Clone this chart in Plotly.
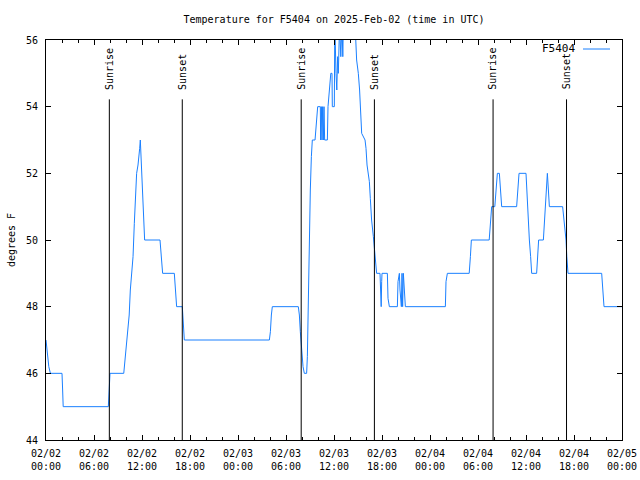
import pandas as pd
import plotly.graph_objects as go

start = "2025-02-02 00:00"
# hours since start (UTC) and temperature (deg F)
hours = [
    0.00, 0.08, 0.20, 0.35, 0.55, 2.00, 2.08, 2.15, 7.79, 7.90, 8.00,
    9.72, 9.85, 9.95, 10.08, 10.25, 10.40, 10.54, 10.70, 10.88, 11.04, 11.20,
    11.33, 11.50, 11.63, 11.71, 11.79, 11.88, 12.00, 12.17, 12.29, 12.33,
    14.25, 14.33, 14.50, 14.58, 16.04, 16.13, 16.25, 16.33, 17.04, 17.12,
    17.20, 17.29, 27.92, 28.05, 28.17, 28.29, 31.54, 31.67, 31.79, 31.96,
    32.13, 32.29, 32.58, 32.67, 32.75, 32.83, 32.92, 33.04, 33.17, 33.29,
    33.63, 33.70, 33.85, 33.96, 34.29, 34.33, 34.42, 34.50, 34.58, 34.67,
    34.75, 34.83, 35.00, 35.17, 35.25, 35.46, 35.60, 35.75, 35.79, 36.04,
    36.10, 36.25, 36.35, 36.45, 36.54, 36.70, 36.85, 37.00, 37.10, 37.17,
    38.63, 38.83, 39.04, 39.20, 39.46, 39.88, 40.00, 40.13, 40.29, 40.42,
    40.54, 40.70, 40.92, 41.10, 41.25, 41.33, 41.75, 41.83, 41.90, 41.96,
    42.00, 42.67, 42.75, 42.92, 43.92, 44.00, 44.17, 44.25, 44.42, 44.50,
    44.58, 44.67, 44.92, 49.92, 50.00, 50.17, 52.90, 53.05, 53.17, 55.40,
    55.55, 55.71, 56.10, 56.25, 56.42, 56.67, 56.80, 56.96, 58.83, 58.95,
    59.13, 60.00, 60.17, 60.42, 60.58, 60.71, 61.33, 61.50, 61.58, 62.17,
    62.42, 62.67, 62.80, 62.92, 64.58, 64.90, 65.00, 65.10, 65.25, 69.46,
    69.60, 69.75, 72.00,
]
temps = [
    47.0, 46.8, 46.5, 46.2, 46.0, 46.0, 45.5, 45.0, 45.0, 45.5, 46.0,
    46.0, 46.3, 46.5, 47.0, 47.25, 47.75, 48.5, 49.0, 49.5, 50.5, 51.5,
    52.0, 52.25, 52.5, 52.75, 53.0, 52.5, 51.7, 51.0, 50.35, 50.0,
    50.0, 49.75, 49.25, 49.0, 49.0, 48.75, 48.3, 48.0, 48.0, 47.75,
    47.25, 47.0, 47.0, 47.25, 47.75, 48.0, 48.0, 47.75, 47.25, 46.6,
    46.2, 46.0, 46.0, 46.5, 47.7, 49.0, 50.3, 51.5, 52.5, 53.0,
    53.0, 53.2, 53.7, 54.0, 54.0, 53.0, 54.0, 53.0, 54.0, 53.0,
    54.0, 53.0, 53.0, 53.0, 54.0, 54.5, 55.0, 55.0, 54.0, 54.0,
    56.5, 55.0, 54.5, 55.5, 55.0, 56.5, 55.5, 56.5, 55.5, 56.5,
    56.5, 55.4, 55.0, 54.5, 53.2, 53.0, 52.75, 52.25, 52.0, 51.75,
    51.25, 50.6, 50.1, 49.6, 49.2, 49.0, 49.0, 48.25, 48.0, 48.75,
    49.0, 49.0, 48.25, 48.0, 48.0, 48.75, 49.0, 48.5, 48.0, 49.0,
    48.0, 49.0, 48.0, 48.0, 48.75, 49.0, 49.0, 49.5, 50.0, 50.0,
    50.5, 51.0, 51.0, 51.5, 52.0, 52.0, 51.5, 51.0, 51.0, 51.5,
    52.0, 52.0, 51.0, 50.0, 49.5, 49.0, 49.0, 49.5, 50.0, 50.0,
    51.0, 52.0, 51.5, 51.0, 51.0, 50.3, 50.0, 49.5, 49.0, 49.0,
    48.5, 48.0, 48.0,
]
sunrise_times = ["2025-02-02 07:55", "2025-02-03 07:54", "2025-02-04 07:53"]
sunset_times = ["2025-02-02 17:02", "2025-02-03 17:03", "2025-02-04 17:04"]
marker_top = 54.22
label_base = 54.45
y_range = [44, 56]
x_range = ["2025-02-02 00:00", "2025-02-05 00:00"]
series_name = "F5404"
title_text = "Temperature for F5404 on 2025-Feb-02 (time in UTC)"
y_title = "degrees F"

FONT = "DejaVu Sans Mono"
LINE_COLOR = "#1a80ff"

times = pd.Timestamp(start) + pd.to_timedelta(hours, unit="h")

fig = go.Figure()
fig.add_trace(go.Scatter(x=times, y=temps, mode="lines", name=series_name,
                         line=dict(color=LINE_COLOR, width=1), showlegend=False))

for label, tlist in (("Sunrise", sunrise_times), ("Sunset", sunset_times)):
    for t in tlist:
        fig.add_trace(go.Scatter(x=[t, t], y=[y_range[0], marker_top], mode="lines",
                                 line=dict(color="black", width=1),
                                 showlegend=False, hoverinfo="skip"))
        fig.add_annotation(x=t, y=label_base, xref="x", yref="y", text=label,
                           textangle=-90, showarrow=False, xanchor="center",
                           yanchor="bottom", font=dict(family=FONT, size=10, color="black"))

# legend key (text left of line sample, as in the reference)
W, H = 640, 480
L, R, T, B = 46, 18, 40, 40
pw, ph = W - L - R, H - T - B
def px(xp):
    return (xp - L) / pw
def py(yp):
    return (H - B - yp) / ph
fig.add_annotation(x=px(577), y=py(49), xref="paper", yref="paper", text=series_name,
                   showarrow=False, xanchor="right", yanchor="middle",
                   font=dict(family=FONT, size=11, color="black"))
fig.add_shape(type="line", xref="paper", yref="paper", x0=px(583), x1=px(610),
              y0=py(49), y1=py(49), line=dict(color=LINE_COLOR, width=1))

axis_common = dict(showline=True, linecolor="black", linewidth=1, mirror="ticks",
                   ticks="inside", tickcolor="black", showgrid=False, zeroline=False,
                   automargin=False,
                   tickfont=dict(family=FONT, size=10, color="black"))
fig.update_xaxes(range=x_range, type="date", dtick=6 * 3600 * 1000,
                 tick0="2025-02-02 00:00", tickformat="%m/%d<br>%H:%M", ticklen=5,
                 ticklabelstandoff=4,
                 minor=dict(dtick=2 * 3600 * 1000, ticks="inside", ticklen=3,
                            tickcolor="black", showgrid=False),
                 **axis_common)
fig.update_yaxes(range=y_range, dtick=2, ticklen=5, ticklabelstandoff=5,
                 title=dict(text=y_title,
                            font=dict(family=FONT, size=10, color="black"), standoff=8),
                 **axis_common)

fig.update_layout(
    width=W, height=H, margin=dict(l=L, r=R, t=T, b=B),
    paper_bgcolor="white", plot_bgcolor="white",
    title=dict(text=title_text, x=(334) / W, xanchor="center", y=1 - 19 / H,
               yanchor="middle", font=dict(family=FONT, size=10, color="black")),
    showlegend=False,
)
fig.write_html("out.html", config={"displayModeBar": False},
               post_script="document.body.style.margin='0';")
